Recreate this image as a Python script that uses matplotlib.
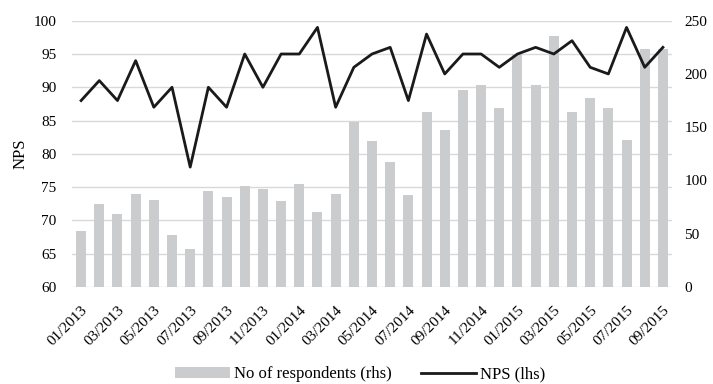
import numpy as np
import matplotlib.pyplot as plt

plt.rcParams["font.family"] = ["Liberation Serif", "DejaVu Serif"]

# Monthly series, 01/2013 - 09/2015
months = [f"{m:02d}/{y}" for y in (2013, 2014, 2015) for m in range(1, 13)][:33]

respondents = [52, 78, 68, 87, 82, 49, 36, 90, 84, 95, 92, 81, 97, 70, 87,
               155, 137, 117, 86, 164, 147, 185, 190, 168, 219, 190, 236,
               164, 177, 168, 138, 223, 223]

nps = [88, 91, 88, 94, 87, 90, 78, 90, 87, 95, 90, 95, 95, 99, 87,
       93, 95, 96, 88, 98, 92, 95, 95, 93, 95, 96, 95, 97, 93, 92, 99, 93, 96]

x = np.arange(len(months))

fig = plt.figure(figsize=(7.13, 3.84), dpi=100)
ax = fig.add_axes([0.101, 0.253, 0.8415, 0.693])
ax2 = ax.twinx()
ax3 = ax.twinx()

# left axis: NPS scale with gridlines (drawn underneath)
ax.set_ylim(60, 100)
ax.set_yticks(np.arange(60, 101, 5))
ax.grid(axis="y", color="#d9d9d9", linewidth=1)
ax.set_axisbelow(True)
ax.set_ylabel("NPS", fontsize=12, labelpad=4)

# right axis: respondents bars
bars = ax2.bar(x, respondents, width=0.55, color="#cbcccd", label="No of respondents (rhs)")
ax2.set_ylim(0, 250)
ax2.set_yticks(np.arange(0, 251, 50))

# NPS line on top, same scale as the left axis
line, = ax3.plot(x, nps, color="#1a1a1a", linewidth=2, label="NPS (lhs)")
ax3.set_ylim(60, 100)
ax3.set_yticks([])

for a in (ax, ax2, ax3):
    a.set_xlim(-0.5, len(months) - 0.5)
    for s in a.spines.values():
        s.set_visible(False)
    a.tick_params(length=0, labelsize=11)

ax.set_xticks(x[::2])
ax.set_xticklabels(months[::2], rotation=45, ha="right", rotation_mode="anchor", fontsize=11)
ax.tick_params(axis="x", pad=12)
ax.tick_params(axis="y", pad=11)
ax2.tick_params(axis="y", pad=9)

fig.legend(handles=[bars, line], loc="lower center", bbox_to_anchor=(0.505, -0.035),
           ncol=2, frameon=False, fontsize=12, handlelength=3.3, columnspacing=1.8,
           handletextpad=0.2)

fig.savefig("out.png", dpi=100)
